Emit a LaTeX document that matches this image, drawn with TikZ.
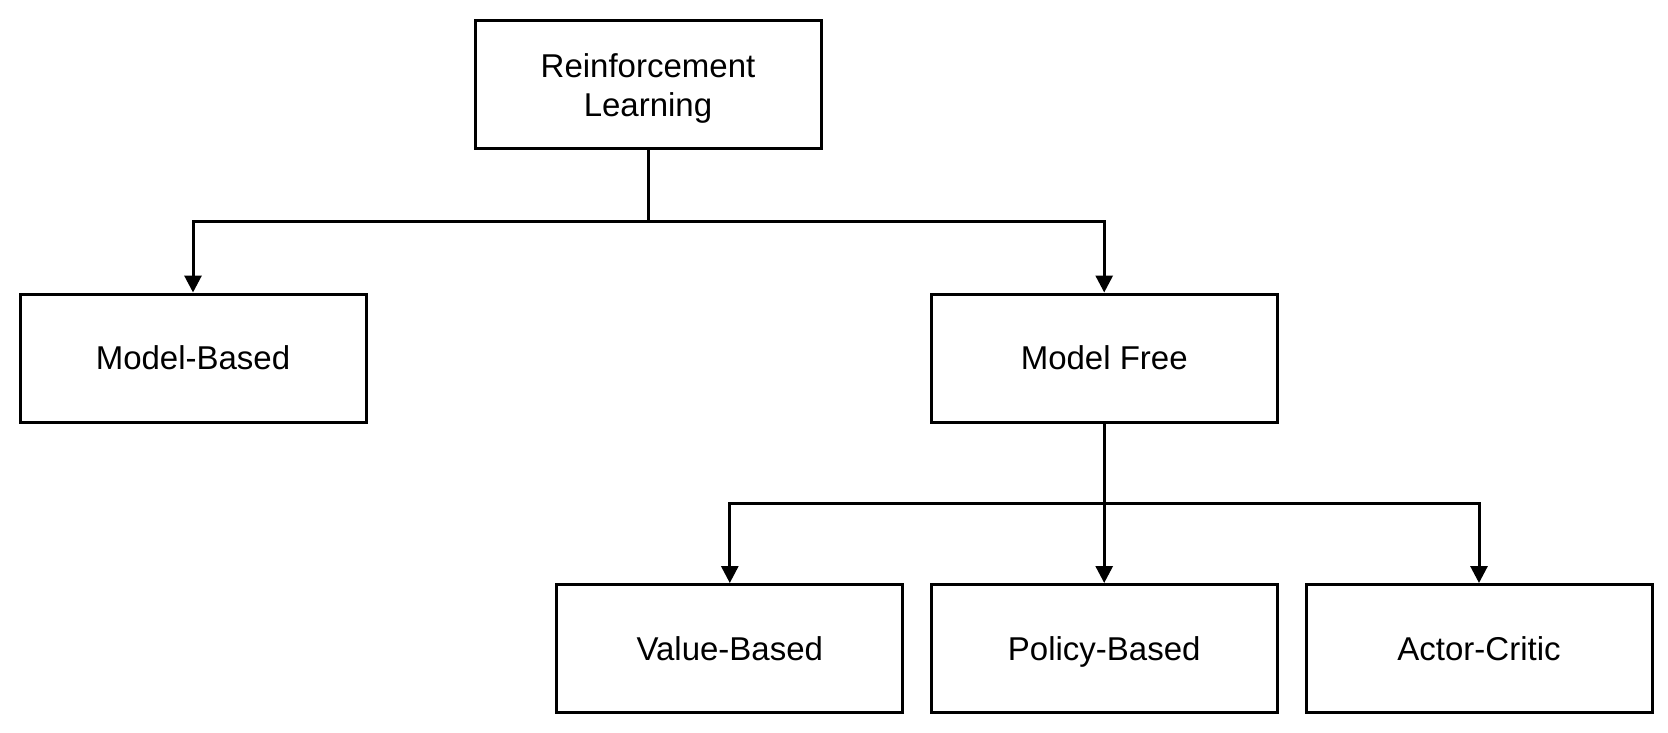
\documentclass[tikz,border=0pt]{standalone}
\usepackage{fontspec}
\setmainfont{Liberation Sans}
\usetikzlibrary{arrows.meta}
\begin{document}
\begin{tikzpicture}[x=1pt,y=-1pt,
  box/.style={draw=black, line width=3pt, rectangle, minimum width=346pt, minimum height=128pt,
    align=center, inner sep=0pt, text height=23.6pt, text depth=0pt,
    font=\fontsize{33}{39.5}\selectfont},
  link/.style={draw=black, line width=3pt},
  arr/.style={link, -{Triangle[width=17pt,length=17pt]}}]
\useasboundingbox (0,0) rectangle (1668,732);
\node[box, text height=0pt, text depth=0pt] (rl) at (648,84.8)
  {\raisebox{0pt}[31.55pt][31.55pt]{\raisebox{7.5pt}{\begin{tabular}[t]{@{}c@{}}Reinforcement\\Learning\end{tabular}}}};
\node[box] (mb) at (193,358) {Model-Based};
\node[box] (mf) at (1104.2,358) {Model Free};
\node[box] (vb) at (729.8,648.5) {Value-Based};
\node[box] (pb) at (1104.2,648.5) {Policy-Based};
\node[box] (ac) at (1479,648.5) {Actor-Critic};
\coordinate (j1) at (648,221);
\coordinate (j2) at (1104.2,503.3);
\draw[link] (rl.south) -- (j1);
\draw[arr] (j1) -| (mb.north);
\draw[arr] (j1) -| (mf.north);
\draw[link] (mf.south) -- (j2);
\draw[arr] (j2) -| (vb.north);
\draw[arr] (j2) -- (pb.north);
\draw[arr] (j2) -| (ac.north);
\end{tikzpicture}
\end{document}
